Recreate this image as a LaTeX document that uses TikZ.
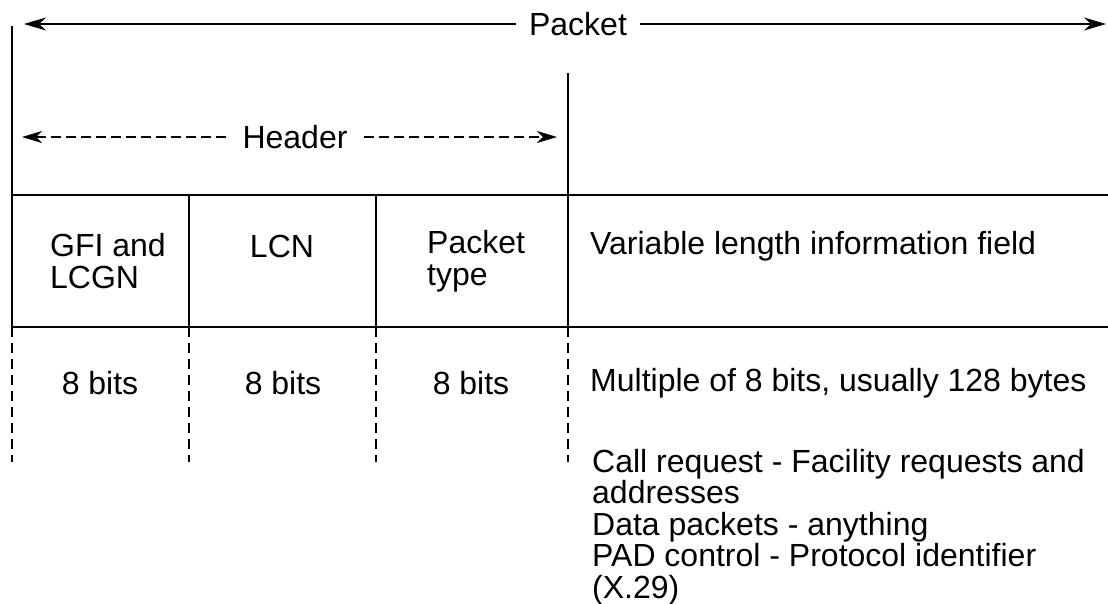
\documentclass[tikz,border=0pt]{standalone}
\usepackage{fontspec}
\setmainfont{Liberation Sans}
\usetikzlibrary{arrows.meta}
\begin{document}
\begin{tikzpicture}[x=1pt, y=-1pt,
  rule/.style={line width=1.6pt},
  cut/.style={line width=1.5pt, dash pattern=on 10pt off 6pt},
  span/.style={line width=1.6pt, -{Stealth[length=22pt, width=13pt, inset=7pt]}},
  dspan/.style={line width=1.5pt, dash pattern=on 10pt off 5pt,
    -{Stealth[length=20pt, width=12pt, inset=6pt]}},
  txt/.style={font=\fontsize{32}{32}\selectfont, inner sep=0pt},
  gap/.style={txt, inner xsep=13pt}]
\useasboundingbox (0,0) rectangle (1108,603);

% spans across the top
\node[gap] (pkt) at (578,24) {Packet};
\coordinate (pktL) at (24,24);
\coordinate (pktR) at (1106,24);
\draw[span] (pkt.west) -- (pktL);
\draw[span] (pkt.east) -- (pktR);

\node[gap, inner xsep=16pt] (hdr) at (295,137) {Header};
\coordinate (hdrL) at (22,137);
\coordinate (hdrR) at (557,137);
\draw[dspan] (hdr.west) -- (hdrL);
\draw[dspan] (hdr.east) -- (hdrR);

% field grid
\coordinate (topL) at (12,26);
\coordinate (topD) at (568,73);
\draw[rule] (topL) -- (12,327);
\draw[rule] (topD) -- (568,327);
\draw[rule] (189,195) -- (189,327);
\draw[rule] (376,195) -- (376,327);
\draw[rule] (12,195) -- (1108,195);
\draw[rule] (12,327) -- (1108,327);

% dashed extensions below the fields
\foreach \x in {12,189,376,568}
  \draw[cut] (\x,327) -- (\x,462);

% field names
\node[txt, anchor=west, align=left] (gfi) at (50,261) {GFI and\\LCGN};
\node[txt] (lcn) at (282,246) {LCN};
\node[txt, anchor=west, align=left] (ptype) at (427,261) {Packet\\type};
\node[txt, anchor=west] (var) at (590,246) {Variable length information field};

% field sizes
\node[txt] (b1) at (100,383) {8 bits};
\node[txt] (b2) at (283,383) {8 bits};
\node[txt] (b3) at (471,383) {8 bits};
\node[txt, anchor=west] (mult) at (590,383) {Multiple of 8 bits, usually 128 bytes};

% contents of the information field
\node[txt, anchor=north west, align=left, font=\fontsize{32}{31.5}\selectfont] (notes) at (592,449)
  {Call request - Facility requests and\\addresses\\Data packets - anything\\PAD control - Protocol identifier\\(X.29)};
\end{tikzpicture}
\end{document}
